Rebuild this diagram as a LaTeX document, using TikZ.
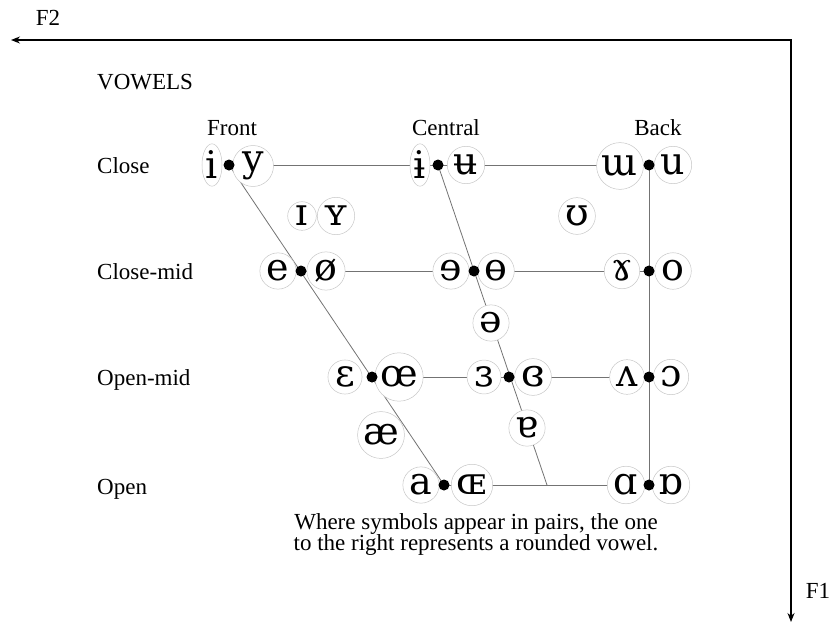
\documentclass[tikz,border=0pt]{standalone}
\usepackage{fontspec}
\setmainfont{Liberation Serif}
\newfontfamily\ipafont{DejaVu Serif}
\usetikzlibrary{shapes.geometric,arrows.meta}
\begin{document}
\begin{tikzpicture}[x=1pt,y=-1pt,
  sym/.style={circle,draw=black!22,line width=0.5pt,fill=white,inner sep=2pt,font=\ipafont\fontsize{38}{38}\selectfont},
  symE/.style={sym,ellipse,inner sep=1pt},
  vdot/.style={circle,fill=black,inner sep=0pt,minimum size=11pt},
  chart/.style={draw=black!55,line width=0.8pt},
  axis/.style={draw=black,line width=1.3pt,line join=miter},
  lab/.style={font=\fontsize{23}{23}\selectfont,inner sep=0pt}
]
\useasboundingbox (0,0) rectangle (834,626);
% axes
\coordinate (f2end) at (11,40);
\coordinate (corner) at (791,40);
\coordinate (f1end) at (791,622);
\draw[axis,{Stealth[length=9pt,width=7pt]}-{Stealth[length=9pt,width=7pt]}] (f2end) -- (corner) -- (f1end);
\node[lab,anchor=base] (F2) at (48,26) {F2};
\node[lab,anchor=base] (F1) at (818,598) {F1};
% labels
\node[lab,anchor=base west] (vowels) at (97,89) {VOWELS};
\node[lab,anchor=base] (front) at (232,135) {Front};
\node[lab,anchor=base] (central) at (446,135) {Central};
\node[lab,anchor=base] (back) at (658,135) {Back};
\node[lab,anchor=base west] (close) at (97,173) {Close};
\node[lab,anchor=base west] (closemid) at (97,279) {Close-mid};
\node[lab,anchor=base west] (openmid) at (97,385) {Open-mid};
\node[lab,anchor=base west] (open) at (97,494) {Open};
% skeleton coordinates
\coordinate (cf) at (229,165);
\coordinate (cc) at (438,165);
\coordinate (cb) at (649,165);
\coordinate (cmf) at (301,271);
\coordinate (cmc) at (474,271);
\coordinate (cmb) at (649,271);
\coordinate (omf) at (372,377);
\coordinate (omc) at (509,377);
\coordinate (omb) at (649,377);
\coordinate (of) at (444,485);
\coordinate (oc) at (547,485);
\coordinate (ob) at (649,485);
% chart lines
\draw[chart] (cf) -- (of);
\draw[chart] (cc) -- (oc);
\draw[chart] (cb) -- (ob);
\draw[chart] (cf) -- (cb);
\draw[chart] (cmf) -- (cmb);
\draw[chart] (omf) -- (omb);
\draw[chart] (of) -- (ob);
% symbols
\node[symE] (s_i) at (212,165) {i};
\node[sym] (s_y) at (253,166) {y};
\node[symE] (s_ibar) at (420,165) {ɨ};
\node[sym] (s_ubar) at (466,165) {ʉ};
\node[sym] (s_m) at (620,166) {ɯ};
\node[sym] (s_u) at (673,165) {u};
\node[sym] (s_I) at (302,216) {ɪ};
\node[sym] (s_Y) at (336,216) {ʏ};
\node[sym] (s_U) at (577,216) {ʊ};
\node[sym] (s_e) at (278,271) {e};
\node[sym] (s_o2) at (326,271) {ø};
\node[sym] (s_rev) at (451,271) {ɘ};
\node[sym] (s_obar) at (496,271) {ɵ};
\node[sym] (s_gam) at (622,271) {ɤ};
\node[sym] (s_o) at (673,271) {o};
\node[sym] (s_schwa) at (491,323) {ə};
\node[sym] (s_eps) at (345,377) {ɛ};
\node[sym] (s_oe) at (399,377) {œ};
\node[sym] (s_reveps) at (484,377) {ɜ};
\node[sym] (s_closedrev) at (533,377) {ɞ};
\node[sym] (s_wedge) at (627,377) {ʌ};
\node[sym] (s_openo) at (671,377) {ɔ};
\node[sym] (s_ae) at (381,435) {æ};
\node[sym] (s_turna) at (527,428) {ɐ};
\node[sym] (s_a) at (421,485) {a};
\node[sym] (s_OE) at (472,485) {ɶ};
\node[sym] (s_alpha) at (626,485) {ɑ};
\node[sym] (s_turnalpha) at (671,485) {ɒ};
% dots
\foreach \p in {cf,cc,cb,cmf,cmc,cmb,omf,omc,omb,of,ob}
  \node[vdot] (d\p) at (\p) {};
% caption
\node[lab,align=center,font=\fontsize{23}{21}\selectfont] (caption) at (476,534)
  {Where symbols appear in pairs, the one\\to the right represents a rounded vowel.};
\end{tikzpicture}
\end{document}
